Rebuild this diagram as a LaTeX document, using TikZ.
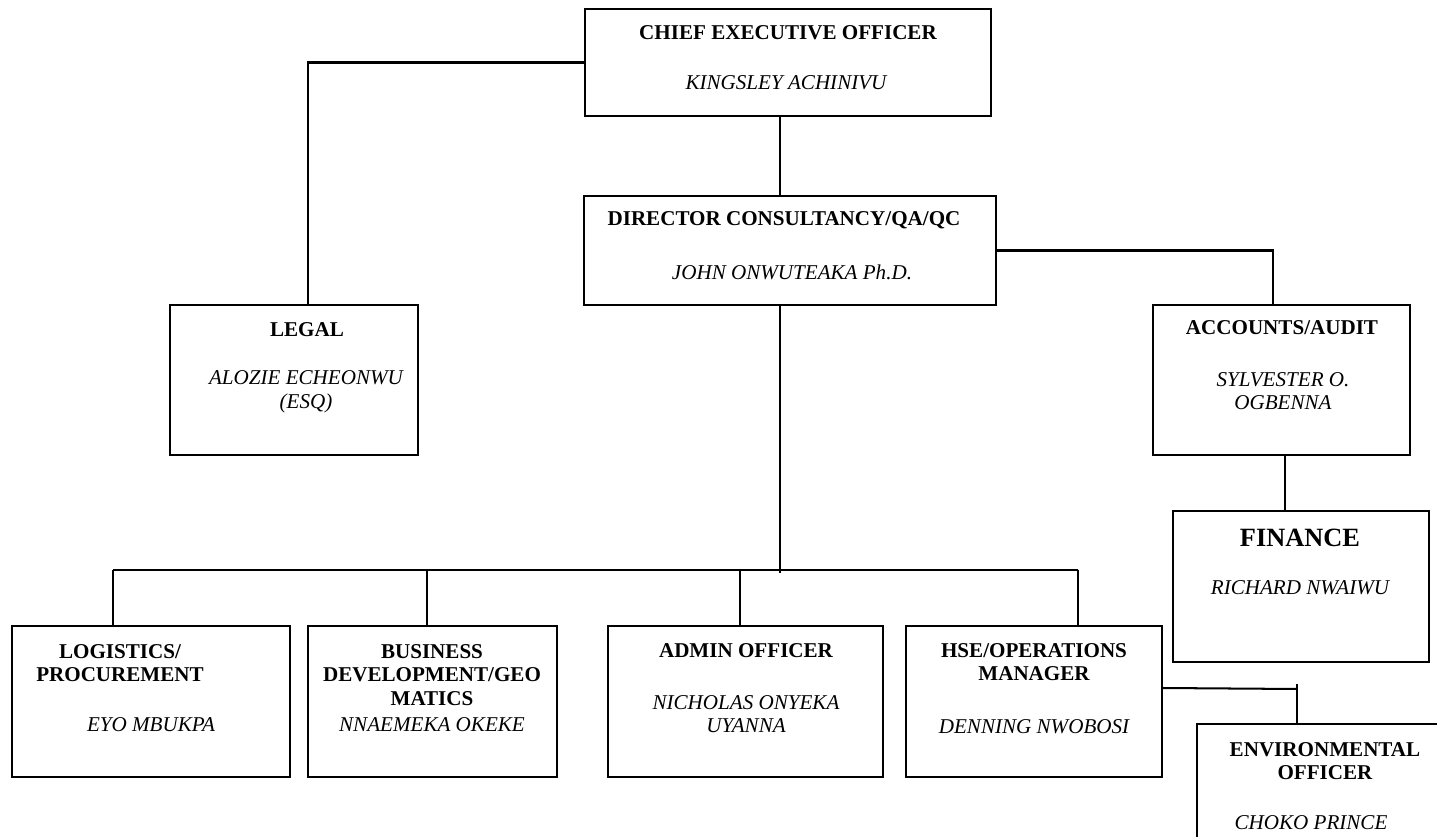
\documentclass[tikz,border=0pt]{standalone}
\usepackage{fontspec}
\setmainfont{Liberation Serif}
\usetikzlibrary{calc}
\tikzset{
    box_node/.style={rectangle, draw=black, line width=1.15pt, inner sep=0pt},
    title_text/.style={inner sep=0pt, text centered, align=center, font=\fontsize{12}{13.5}\selectfont\bfseries},
    name_text/.style={inner sep=0pt, text centered, align=center, font=\fontsize{12}{13.5}\selectfont\itshape},
    big_title/.style={inner sep=0pt, text centered, align=center, font=\fontsize{15}{17}\selectfont\bfseries},
    line/.style={line width=1.15pt},
}

\begin{document}
\begin{tikzpicture}[x=0.02cm, y=-0.02cm]
            \useasboundingbox (0,0) rectangle (1437,837);
            \clip (0,0) rectangle (1437,837);
            \fill[white] (0,0) rectangle (1437,837);
            %%%%%%%%%%%%%
            % TOP       %
            %%%%%%%%%%%%%
            \node (ceo) [box_node, minimum width=8.12cm, minimum height=2.14cm] at (788,62.5) {};
            \node (ceo_title) [title_text] at (788,33) {CHIEF EXECUTIVE OFFICER};
            \node (ceo_name) [name_text] at (786,83) {KINGSLEY ACHINIVU};

            \node (dir) [box_node, minimum width=8.24cm, minimum height=2.18cm] at (790,250.5) {};
            \node (dir_title) [title_text] at (784,220) {DIRECTOR CONSULTANCY/QA/QC};
            \node (dir_name) [name_text] at (792,272) {JOHN ONWUTEAKA Ph.D.};

            %%%%%%%%%%%%%
            % SIDES     %
            %%%%%%%%%%%%%
            \node (legal) [box_node, minimum width=4.96cm, minimum height=3cm] at (294,380) {};
            \node (legal_title) [title_text] at (307,330) {LEGAL};
            \node (legal_name) [name_text] at (306,392) {ALOZIE ECHEONWU \\ (ESQ)};

            \node (acc) [box_node, minimum width=5.14cm, minimum height=3cm] at (1281.5,380) {};
            \node (acc_title) [title_text] at (1282,328) {ACCOUNTS/AUDIT};
            \node (acc_name) [name_text] at (1283,391) {SYLVESTER O. \\ OGBENNA};

            \node (fin) [box_node, minimum width=5.12cm, minimum height=3.02cm] at (1301,586.5) {};
            \node (fin_title) [big_title] at (1300,538) {FINANCE};
            \node (fin_name) [name_text] at (1300,588) {RICHARD NWAIWU};

            %%%%%%%%%%%%%
            % BOTTOM    %
            %%%%%%%%%%%%%
            \node (log) [box_node, minimum width=5.56cm, minimum height=3.02cm] at (151,701.5) {};
            \node (log_title) [title_text] at (120,663) {LOGISTICS/ \\ PROCUREMENT};
            \node (log_name) [name_text] at (151,725) {EYO MBUKPA};

            \node (bus) [box_node, minimum width=4.98cm, minimum height=3.02cm] at (432.5,701.5) {};
            \node (bus_title) [title_text] at (432,675) {BUSINESS \\ DEVELOPMENT/GEO \\ MATICS};
            \node (bus_name) [name_text] at (432,725) {NNAEMEKA OKEKE};

            \node (adm) [box_node, minimum width=5.5cm, minimum height=3.02cm] at (745.5,701.5) {};
            \node (adm_title) [title_text] at (746,651) {ADMIN OFFICER};
            \node (adm_name) [name_text] at (746,714) {NICHOLAS ONYEKA \\ UYANNA};

            \node (hse) [box_node, minimum width=5.12cm, minimum height=3.02cm] at (1034,701.5) {};
            \node (hse_title) [title_text] at (1034,662) {HSE/OPERATIONS \\ MANAGER};
            \node (hse_name) [name_text] at (1034,727) {DENNING NWOBOSI};

            \node (env) [box_node, minimum width=6cm, minimum height=3.2cm] at (1347,804) {};
            \node (env_title) [title_text] at (1325,761) {ENVIRONMENTAL \\ OFFICER};
            \node (env_name) [name_text] at (1311,823) {CHOKO PRINCE};

            %%%%%%%%%%%%%
            % LINES     %
            %%%%%%%%%%%%%
            \coordinate (legal_in) at (308,305);
            \coordinate (acc_in) at (1273,305);
            \coordinate (fin_in) at (1285,511);
            \coordinate (spine) at (780,573);
            \coordinate (bus_l) at (113,570);
            \coordinate (bus_r) at (1078,570);
            \coordinate (drop_bus) at (427,570);
            \coordinate (drop_adm) at (740,570);
            \coordinate (hse_out) at (1162,688);
            \coordinate (env_bend) at (1297,689);
            \coordinate (env_tick) at (1297,684);

            \draw [line] (ceo.west) -| (legal_in);
            \draw [line] (ceo.south -| spine) -- (dir.north -| spine);
            \draw [line] (dir.south -| spine) -- (spine);
            \draw [line] (dir.east) -| (acc_in);
            \draw [line] (acc.south -| fin_in) -- (fin_in);

            \draw [line] (bus_l) -- (bus_r);
            \draw [line] (bus_l) -- (bus_l |- log.north);
            \draw [line] (drop_bus) -- (drop_bus |- bus.north);
            \draw [line] (drop_adm) -- (drop_adm |- adm.north);
            \draw [line] (bus_r) -- (bus_r |- hse.north);

            \draw [line] (hse_out) -- (env_bend);
            \draw [line] (env_tick) -- (env_tick |- env.north);
      \end{tikzpicture}
\end{document}
